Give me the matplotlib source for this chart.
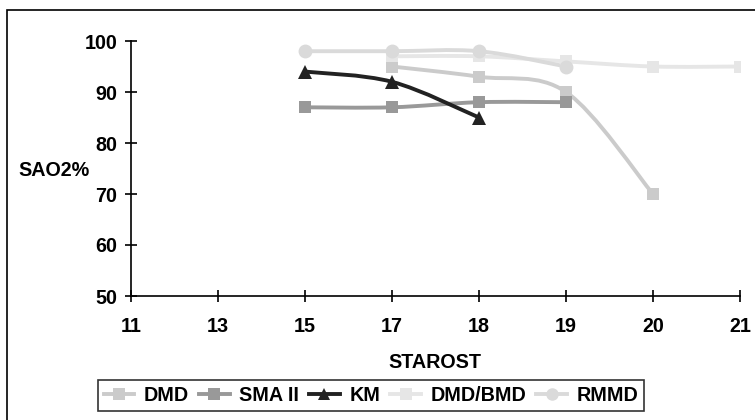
"""SaO2 by age (STAROST) for several diagnoses, Excel-style smoothed lines."""

import matplotlib
matplotlib.use("Agg")
import matplotlib.pyplot as plt
from matplotlib.path import Path
from matplotlib.patches import PathPatch, Rectangle

plt.rcParams["font.family"] = ["Liberation Sans", "DejaVu Sans"]
plt.rcParams["font.weight"] = "bold"
FS = 14.2

ages = ["11", "13", "15", "17", "18", "19", "20", "21"]

# (age label, SaO2 %) per series
dmd = [("17", 95), ("18", 93), ("19", 90), ("20", 70)]
sma2 = [("15", 87), ("17", 87), ("18", 88), ("19", 88)]
km = [("15", 94), ("17", 92), ("18", 85)]
dmd_bmd = [("17", 97), ("18", 97), ("19", 96), ("20", 95), ("21", 95)]
rmmd = [("15", 98), ("17", 98), ("18", 98), ("19", 95)]

series = [
    ("DMD", dmd, "#cbcbcb", "s", 9),
    ("SMA II", sma2, "#999999", "s", 9),
    ("KM", km, "#222222", "^", 10),
    ("DMD/BMD", dmd_bmd, "#e6e6e6", "s", 9),
    ("RMMD", rmmd, "#dadada", "o", 10),
]


def smooth_path(xs, ys):
    # cubic bezier through the points, control points like Excel's smoothing
    pts = list(zip(xs, ys))
    verts = [pts[0]]
    codes = [Path.MOVETO]
    n = len(pts)
    for i in range(n - 1):
        p0 = pts[max(i - 1, 0)]
        p1 = pts[i]
        p2 = pts[i + 1]
        p3 = pts[min(i + 2, n - 1)]
        c1 = (p1[0] + (p2[0] - p0[0]) / 6, p1[1] + (p2[1] - p0[1]) / 6)
        c2 = (p2[0] - (p3[0] - p1[0]) / 6, p2[1] - (p3[1] - p1[1]) / 6)
        verts += [c1, c2, p2]
        codes += [Path.CURVE4] * 3
    return Path(verts, codes)


fig = plt.figure(figsize=(7.55, 4.2), dpi=100)
ax = fig.add_axes([131 / 755, 1 - 296 / 420, (740 - 131) / 755, (296 - 41) / 420])

handles = []
for name, data, color, marker, ms in series:
    xs = [ages.index(a) for a, _ in data]
    ys = [v for _, v in data]
    ax.add_patch(PathPatch(smooth_path(xs, ys), facecolor="none",
                           edgecolor=color, lw=2.8, zorder=2))
    ax.plot(xs, ys, linestyle="none", color=color, marker=marker,
            markersize=ms, markeredgewidth=0, zorder=3)
    handles.append(plt.Line2D([], [], color=color, lw=2.8, marker=marker,
                              markersize=ms - 1, markeredgewidth=0))

ax.set_xlim(0, len(ages) - 1)
ax.set_ylim(50, 100)
ax.set_xticks(range(len(ages)))
ax.set_xticklabels(ages)
ax.set_yticks(range(50, 101, 10))
for s in ("top", "right"):
    ax.spines[s].set_visible(False)
for s in ("left", "bottom"):
    ax.spines[s].set_linewidth(1.2)
ax.tick_params(axis="both", direction="inout", length=8, width=1.2,
               labelsize=FS)
ax.tick_params(axis="x", pad=11)
ax.tick_params(axis="y", pad=6)
for lbl in ax.get_xticklabels() + ax.get_yticklabels():
    lbl.set_fontweight("bold")

fig.text(18 / 755, 1 - 170 / 420, "SAO2%", ha="left", va="center",
         fontsize=FS, fontweight="bold")
fig.text(435 / 755, 1 - 362 / 420, "STAROST", ha="center", va="center",
         fontsize=FS, fontweight="bold")

leg = fig.legend(handles, [s[0] for s in series], ncol=5,
                 loc="center", bbox_to_anchor=(371 / 755, 1 - 395.5 / 420),
                 frameon=True, fancybox=False, edgecolor="black",
                 fontsize=FS, handlelength=1.55, handletextpad=0.5,
                 columnspacing=0.5, borderpad=0.3, borderaxespad=0)
leg.get_frame().set_linewidth(1.2)
for t in leg.get_texts():
    t.set_fontweight("bold")

# outer chart border
fig.patches.append(Rectangle((7 / 755, -0.05), 1.2, 1 - 10 / 420 + 0.05,
                             transform=fig.transFigure, fill=False,
                             edgecolor="black", lw=1.2))

fig.savefig("out.png", dpi=100)
